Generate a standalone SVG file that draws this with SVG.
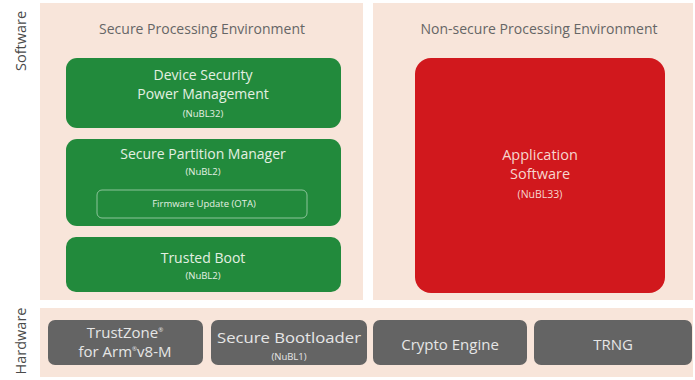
<svg xmlns="http://www.w3.org/2000/svg" width="695" height="380" viewBox="0 0 695 380">
  <style>
    text { font-family: "Open Sans", "Liberation Sans", sans-serif; text-anchor: middle; }
    .panel { fill: #f8e5da; }
    .side { fill: #4a4a4a; font-size: 14.5px; }
    .env { fill: #666666; font-size: 14px; }
    .green { fill: #228a3c; }
    .red { fill: #d1181d; }
    .gray { fill: #646464; }
    .t { fill: #e4f0e2; font-size: 14px; }
    .s { fill: #e4f0e2; font-size: 9.5px; }
    .rt { fill: #f6d6cf; font-size: 14.5px; }
    .rs { fill: #f6d6cf; font-size: 10.5px; }
    .ht { fill: #e6e6e6; font-size: 15px; }
    .hs { fill: #e6e6e6; font-size: 9.5px; }
  </style>

  <rect width="695" height="380" fill="#ffffff"/>

  <!-- side labels -->
  <text class="side" transform="translate(26,41) rotate(-90)">Software</text>
  <text class="side" transform="translate(26,341) rotate(-90)">Hardware</text>

  <!-- environment panels -->
  <g id="secure-env">
    <rect class="panel" x="40" y="3" width="323" height="297"/>
    <text class="env" x="202" y="34">Secure Processing Environment</text>
  </g>
  <g id="nonsecure-env">
    <rect class="panel" x="373" y="3" width="320" height="297"/>
    <text class="env" x="539" y="34">Non-secure Processing Environment</text>
  </g>
  <g id="hardware-layer">
    <rect class="panel" x="40" y="308" width="653" height="69"/>
  </g>

  <!-- secure software blocks -->
  <g id="device-security">
    <rect class="green" x="66" y="58" width="275" height="70" rx="11"/>
    <text class="t" x="203" y="80">Device Security</text>
    <text class="t" x="203" y="99">Power Management</text>
    <text class="s" x="203" y="117">(NuBL32)</text>
  </g>
  <g id="spm">
    <rect class="green" x="66" y="139" width="275" height="87" rx="11"/>
    <text class="t" x="203" y="159">Secure Partition Manager</text>
    <text class="s" x="203" y="175">(NuBL2)</text>
  </g>
  <g id="firmware-update">
    <rect x="97" y="190" width="210" height="28" rx="5" fill="none" stroke="#8cc49a" stroke-width="1"/>
    <text class="s" x="204" y="207">Firmware Update (OTA)</text>
  </g>
  <g id="trusted-boot">
    <rect class="green" x="66" y="237" width="275" height="55" rx="10"/>
    <text class="t" x="203" y="263">Trusted Boot</text>
    <text class="s" x="203" y="279">(NuBL2)</text>
  </g>

  <!-- non-secure software -->
  <g id="application">
    <rect class="red" x="415" y="58" width="250" height="235" rx="16"/>
    <text class="rt" x="540" y="160">Application</text>
    <text class="rt" x="540" y="179">Software</text>
    <text class="rs" x="540" y="198">(NuBL33)</text>
  </g>

  <!-- hardware blocks -->
  <g id="trustzone">
    <rect class="gray" x="48" y="320" width="155" height="45" rx="7"/>
    <text class="ht" x="125" y="338">TrustZone<tspan font-size="6" dy="-6">®</tspan></text>
    <text class="ht" x="125" y="357">for Arm<tspan font-size="6" dy="-6">®</tspan><tspan dy="6">v8-M</tspan></text>
  </g>
  <g id="bootloader">
    <rect class="gray" x="211" y="320" width="156" height="45" rx="7"/>
    <text class="ht" x="289" y="343" textLength="144" lengthAdjust="spacingAndGlyphs">Secure Bootloader</text>
    <text class="hs" x="289" y="360">(NuBL1)</text>
  </g>
  <g id="crypto">
    <rect class="gray" x="373" y="320" width="154" height="45" rx="7"/>
    <text class="ht" x="450" y="350">Crypto Engine</text>
  </g>
  <g id="trng">
    <rect class="gray" x="534" y="320" width="158" height="45" rx="7"/>
    <text class="ht" x="613" y="350">TRNG</text>
  </g>

  <g id="connectors"/>
</svg>
